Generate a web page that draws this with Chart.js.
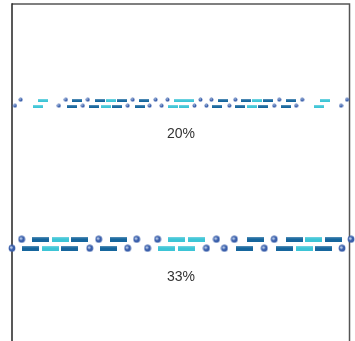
<!DOCTYPE html>
<html>
<head>
<meta charset="utf-8">
<script src="https://cdn.jsdelivr.net/npm/chart.js@4/dist/chart.umd.min.js"></script>
<style>
  html, body { margin: 0; padding: 0; background: #fff; }
  #wrap { width: 355px; height: 341px; position: relative; }
</style>
</head>
<body>
<div id="wrap"><canvas id="chart"></canvas></div>
<script>
// ---- data (x = px offset from left frame, y = px offset from top frame) ----
const rowLabels = ['20%', '33%'];
const rowLabelY = [131, 274];
const frameRight = 338.5;

// row 1 (20%)
const r1TopRectX   = [31, 65.5, 88.5, 99.5, 110.5, 132.5, 167, 178, 212, 235, 246, 257, 280, 314];
const r1TopRectC   = ['c','d','d','c','d','d','c','c','d','d','c','d','d','c'];
const r1TopDotX    = [8.7, 54, 76, 121, 144, 156, 189, 200, 224, 268, 291, 336];
const r1BotRectX   = [26, 60, 82, 94, 105.5, 128, 161, 173, 206, 229, 241, 252, 275, 308];
const r1BotRectC   = ['c','d','d','c','d','d','c','c','d','d','c','d','d','c'];
const r1BotDotX    = [3, 47, 71, 116, 138, 150, 183, 195, 218, 263, 285, 330];
const r1Y          = [97, 103];

// row 2 (33%)
const r2TopRectX   = [28.5, 48.5, 67.5, 106.5, 165, 185, 244, 283.5, 302.5, 322];
const r2TopRectC   = ['d','c','d','d','c','c','d','d','c','d'];
const r2TopDotX    = [9.7, 87, 125, 146, 205, 223, 263, 340];
const r2BotRectX   = [18.5, 38.5, 58, 96.5, 155, 175, 233.5, 273.5, 293.5, 312];
const r2BotRectC   = ['d','c','d','d','c','c','d','d','c','d'];
const r2BotDotX    = [0, 78, 116, 136, 195, 213, 253, 331];
const r2Y          = [236.5, 245.5];

const DARK = '#16669d';
const CYAN = '#3dc5d6';
const DOT  = '#3a5fab';

// ---- point style images ----
function rectImg(w, h, color) {
  const c = document.createElement('canvas');
  c.width = w; c.height = h;
  const g = c.getContext('2d');
  g.fillStyle = color;
  g.fillRect(0, 0, w, h);
  g.fillStyle = 'rgba(255,255,255,0.22)';
  g.fillRect(0, 0, w, Math.max(1, Math.floor(h / 3)));
  return c;
}
function dotImg(r) {
  const s = Math.ceil(r * 2) + 1;
  const c = document.createElement('canvas');
  c.width = s; c.height = s;
  const g = c.getContext('2d');
  g.fillStyle = DOT;
  g.beginPath(); g.arc(s / 2, s / 2, r, 0, Math.PI * 2); g.fill();
  g.fillStyle = 'rgba(210,225,245,0.8)';
  g.beginPath(); g.arc(s / 2 - r * 0.2, s / 2 - r * 0.2, r * 0.4, 0, Math.PI * 2); g.fill();
  return c;
}

const img = {
  r1d: rectImg(10, 3, DARK), r1c: rectImg(10, 3, CYAN),
  r2d: rectImg(17, 5, DARK), r2c: rectImg(17, 5, CYAN),
  dot1: dotImg(2), dot2: dotImg(3.4),
};

function rectSet(xs, cs, y, size) {
  return {
    data: xs.map(x => ({ x, y })),
    pointStyle: cs.map(c => img[size + c]),
    pointRadius: 1, pointHoverRadius: 1, borderWidth: 0,
  };
}
function dotSet(xs, y, style) {
  return {
    data: xs.map(x => ({ x, y })), pointStyle: img[style],
    pointRadius: 1, pointHoverRadius: 1, borderWidth: 0,
  };
}

const datasets = [
  rectSet(r1TopRectX, r1TopRectC, r1Y[0], 'r1'),
  rectSet(r1BotRectX, r1BotRectC, r1Y[1], 'r1'),
  dotSet(r1TopDotX, r1Y[0] - 1, 'dot1'),
  dotSet(r1BotDotX, r1Y[1] - 1, 'dot1'),
  rectSet(r2TopRectX, r2TopRectC, r2Y[0], 'r2'),
  rectSet(r2BotRectX, r2BotRectC, r2Y[1], 'r2'),
  dotSet(r2TopDotX, r2Y[0] - 0.5, 'dot2'),
  dotSet(r2BotDotX, r2Y[1] - 0.5, 'dot2'),
];

// frame + row labels
const framePlugin = {
  id: 'frame',
  beforeDatasetsDraw(chart) {
    const { ctx, chartArea: a, scales: { x } } = chart;
    const right = x.getPixelForValue(frameRight);
    ctx.save();
    ctx.strokeStyle = '#555';
    ctx.lineWidth = 1.5;
    ctx.beginPath();
    ctx.moveTo(a.left, a.top);
    ctx.lineTo(right, a.top);
    ctx.lineTo(right, chart.height);
    ctx.stroke();
    ctx.strokeStyle = '#222';
    ctx.beginPath();
    ctx.moveTo(a.left, chart.height);
    ctx.lineTo(a.left, a.top - 0.75);
    ctx.stroke();
    ctx.restore();
  },
  afterDatasetsDraw(chart) {
    const { ctx, scales: { x, y } } = chart;
    ctx.save();
    ctx.fillStyle = '#333';
    ctx.font = '14px "Liberation Sans", Arial, sans-serif';
    ctx.textAlign = 'center';
    ctx.textBaseline = 'middle';
    rowLabels.forEach((t, i) => {
      ctx.fillText(t, x.getPixelForValue(169.5), y.getPixelForValue(rowLabelY[i]));
    });
    ctx.restore();
  }
};

new Chart(document.getElementById('chart'), {
  type: 'scatter',
  data: { datasets },
  options: {
    responsive: true,
    maintainAspectRatio: false,
    animation: false,
    clip: false,
    layout: { padding: { left: 12, top: 4, right: 0, bottom: 0 } },
    plugins: { legend: { display: false }, tooltip: { enabled: false } },
    scales: {
      x: { type: 'linear', min: 0, max: 343, display: false },
      y: { type: 'linear', min: 0, max: 337, reverse: true, display: false },
    },
  },
  plugins: [framePlugin],
});
</script>
</body>
</html>
